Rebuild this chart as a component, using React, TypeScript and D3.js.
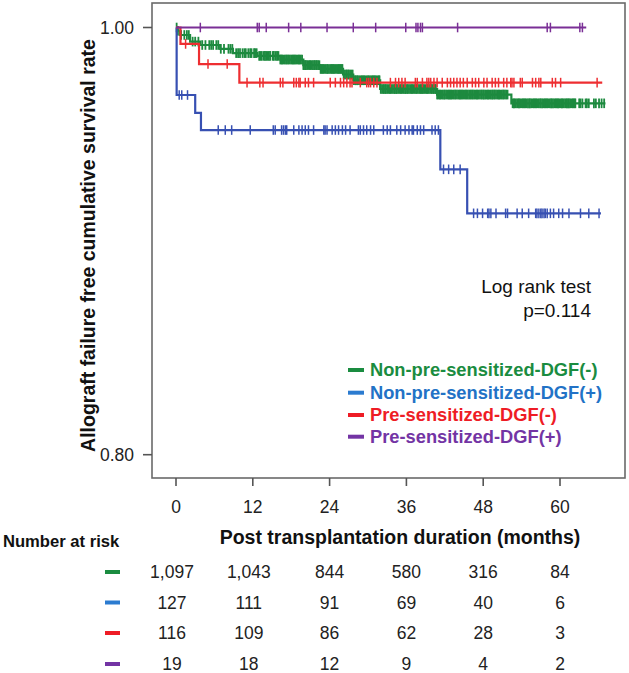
import React from "react";
import * as d3 from "d3";

const W = 629;
const H = 673;

const groups = ["Non-pre-sensitized-DGF(-)", "Non-pre-sensitized-DGF(+)", "Pre-sensitized-DGF(-)", "Pre-sensitized-DGF(+)"];
const curveColors = ["#1d8a3f", "#3750b2", "#ee2e31", "#7a2f96"];
const textColors = ["#1a8c40", "#2272c6", "#ee1c25", "#7334a4"];
const swatchColors = ["#1a8c40", "#2b7bd0", "#ee1c25", "#7334a4"];

// step data: [time (months), survival]
const greenSteps: [number, number][] = [
  [0, 1.0], [0.2, 0.9985], [0.6, 0.9965], [2.2, 0.9934], [3.8, 0.9918], [6.9, 0.990],
  [8.9, 0.988], [12.7, 0.9867], [16.3, 0.985], [19.9, 0.9824], [22.5, 0.9806],
  [26.1, 0.978], [27.7, 0.9753], [31.9, 0.9712], [40.8, 0.9686], [52.4, 0.9645],
];
const blueSteps: [number, number][] = [
  [0, 1.0], [0.1, 0.9684], [3.0, 0.960], [3.9, 0.952], [41.3, 0.9336], [45.5, 0.913],
];
const redSteps: [number, number][] = [
  [0, 1.0], [0.7, 0.9923], [3.6, 0.9829], [9.9, 0.9742],
];
const purpleSteps: [number, number][] = [[0, 1.0]];

const endTimes = [67.1, 66.4, 66.6, 64.1];

const greenCensor = [
  0.1, 0.3, 0.8, 1.3, 1.7, 2.0, 2.6, 3.0, 3.5, 4.1, 4.6, 5.2, 5.5, 5.8, 6.3, 6.6, 7.0, 7.5, 8.2,
  8.5, 8.8, 9.4, 9.7, 10.0, 10.4, 10.7, 10.9, 11.3, 11.6, 11.8, 12.2, 12.4, 12.6, 13.0, 13.2,
  13.4, 13.7, 13.9, 14.1, 14.3, 14.5, 14.7, 15.1, 15.3, 15.6, 15.8, 16.0,
  16.3, 16.5, 16.6, 16.8, 17.0, 17.2, 17.3, 17.5, 17.6, 17.8, 18.0, 18.2, 18.3, 18.5, 18.6,
  18.8, 19.0, 19.2, 19.3, 19.5, 19.7, 19.9, 20.0, 20.2, 20.3, 20.5, 20.7, 20.9, 21.0, 21.2,
  21.4, 21.6, 21.7, 21.9, 22.0, 22.2, 22.4, 22.6, 22.7, 22.9, 23.0, 23.2, 23.4, 23.6, 23.7,
  23.9, 24.1, 24.3, 24.4, 24.6, 24.7, 24.9, 25.1, 25.3, 25.4, 25.6, 25.7, 25.9, 26.0, 26.2,
  26.4, 26.6, 26.7, 26.9, 27.0, 27.2, 27.4, 27.6, 27.8, 28.0, 28.1, 28.3, 28.4, 28.6, 28.8,
  29.0, 29.1, 29.3, 29.4, 29.6, 29.8, 30.0, 30.1, 30.3, 30.5, 30.7, 30.8, 31.0, 31.1, 31.3,
  31.5, 31.7, 31.8, 32.0, 32.2, 32.4, 32.5, 32.7, 32.8, 33.0, 33.2, 33.4, 33.5, 33.7, 33.9,
  34.1, 34.2, 34.4, 34.5, 34.7, 34.9, 35.1, 35.2, 35.4, 35.6, 35.8, 35.9, 36.1, 36.2, 36.4,
  36.6, 36.8, 36.9, 37.1, 37.3, 37.5, 37.6, 37.8, 38.0, 38.2, 38.3, 38.5, 38.6, 38.8, 39.0,
  39.2, 39.3, 39.5, 39.7, 39.9, 40.0, 40.2, 40.3, 40.5, 40.6, 40.8, 41.0, 41.2, 41.3, 41.5,
  41.7, 41.9, 42.0, 42.2, 42.4, 42.6, 42.7, 42.9, 43.0, 43.2, 43.4, 43.6, 43.7, 43.9, 44.1,
  44.3, 44.4, 44.6, 44.7, 44.9, 45.1, 45.3, 45.4, 45.6, 45.8, 46.0, 46.1, 46.3, 46.4, 46.6,
  46.8, 47.0, 47.1, 47.3, 47.5, 47.7, 47.8, 48.0, 48.1, 48.3, 48.5, 48.7, 48.8, 49.0, 49.2,
  49.4, 49.5, 49.7, 49.8, 50.0, 50.2, 50.4, 50.5, 50.7, 50.9, 51.1, 51.2, 51.4, 51.6, 51.8,
  52.6, 52.8, 52.9, 53.1, 53.3, 53.5, 53.6, 53.8, 54.0, 54.2, 54.3, 54.5, 54.6, 54.8, 55.0,
  55.2, 55.3, 55.5, 55.7, 55.9, 56.0, 56.2, 56.3, 56.5, 56.7, 56.9, 57.0, 57.2, 57.4, 57.6,
  57.7, 57.9, 58.0, 58.2, 58.4, 58.6, 58.7, 58.9, 59.1, 59.3, 59.4, 59.6, 59.7, 59.9, 60.1,
  60.3, 60.4, 60.6, 60.8, 61.0, 61.1, 61.3, 61.4, 61.6, 61.8, 62.0, 62.1, 62.3, 62.4,
  63.0, 63.2, 63.5, 64.0, 64.2, 64.5, 65.3, 65.6, 66.1, 66.5, 66.9,
];
const blueCensor = [
  0.5, 0.9, 1.8, 6.6, 7.7, 8.7, 11.6, 15.2, 15.5, 16.5, 16.8, 17.1, 17.3, 18.4, 19.2, 19.7,
  20.2, 20.7, 21.5, 23.1, 23.3, 23.6, 24.4, 24.9, 25.4, 26.0, 26.5, 27.2, 28.5, 28.8, 29.3,
  29.8, 30.4, 30.9, 32.4, 33.0, 33.5, 34.5, 35.1, 35.8, 36.4, 36.9, 37.1, 37.7, 38.2, 38.7,
  40.0, 40.5, 41.0, 41.8, 42.6, 43.4, 44.4, 46.5, 47.1, 47.9, 48.7, 48.9, 49.2, 50.0, 51.5,
  51.8, 53.3, 54.1, 55.1, 56.2, 56.4, 56.7, 57.0, 57.2, 57.5, 57.7, 58.0, 58.5, 59.0, 59.8,
  60.4, 61.4, 63.2, 64.5, 66.1,
];
const redCensor = [
  1.5, 5.0, 8.0, 11.1, 13.1, 13.6, 16.3, 16.7, 18.4, 18.8, 19.2, 19.4, 20.2, 20.7, 21.5,
  24.1, 24.9, 25.7, 26.2, 26.7, 27.2, 27.5, 28.8, 29.8, 30.1, 30.4, 30.9, 31.4, 33.5, 34.3,
  34.8, 35.3, 35.8, 37.4, 37.7, 38.5, 39.2, 39.5, 39.8, 40.3, 40.8, 41.6, 42.4, 42.9, 43.4,
  43.9, 44.4, 44.9, 45.5, 46.3, 46.8, 47.3, 48.1, 48.6, 49.4, 49.9, 50.4, 51.2, 51.7, 52.3,
  52.5, 52.8, 53.8, 54.1, 55.7, 56.2, 56.7, 57.0, 58.8, 59.3, 60.1, 65.8,
];
const purpleCensor = [
  3.8, 12.7, 13.0, 14.1, 17.6, 19.5, 23.6, 27.7, 31.2, 35.9, 37.5, 37.8, 38.2, 38.5, 44.0,
  58.0, 58.5, 63.1, 63.5,
];

const xTicks = [0, 12, 24, 36, 48, 60];
const yTicks = [0.8, 1.0];
const riskGreen = ["1,097", "1,043", "844", "580", "316", "84"];
const riskBlue = ["127", "111", "91", "69", "40", "6"];
const riskRed = ["116", "109", "86", "62", "28", "3"];
const riskPurple = ["19", "18", "12", "9", "4", "2"];

const allSteps = [greenSteps, blueSteps, redSteps, purpleSteps];
const allCensor = [greenCensor, blueCensor, redCensor, purpleCensor];
const allRisk = [riskGreen, riskBlue, riskRed, riskPurple];

const FONT = "'Liberation Sans', Arial, Helvetica, sans-serif";

export default function App() {
  const frame = { left: 152, top: 3, right: 625, bottom: 478 };
  const x = d3.scaleLinear().domain([0, 60]).range([176, 560]);
  const y = d3.scaleLinear().domain([0.8, 1.0]).range([454.7, 27.5]);

  const valueAt = (steps: [number, number][], t: number) => {
    let v = steps[0][1];
    for (const [st, sv] of steps) if (st <= t) v = sv;
    return v;
  };

  const line = d3
    .line<[number, number]>()
    .x((d) => x(d[0]))
    .y((d) => y(d[1]))
    .curve(d3.curveStepAfter);

  const drawOrder = [0, 1, 2, 3];
  const legendY = [370, 392.7, 415, 436.7];
  const riskY = [572, 602.5, 633, 664];
  const tickWidths = [1.8, 1.5, 1.5, 1.5];

  return (
    <svg
      width={W}
      height={H}
      style={{ position: "absolute", left: 0, top: 0, background: "#fff" }}
      fontFamily={FONT}
    >
      <rect x={0} y={0} width={W} height={H} fill="#fff" />
      {/* frame */}
      <rect
        x={frame.left}
        y={frame.top}
        width={frame.right - frame.left}
        height={frame.bottom - frame.top}
        fill="none"
        stroke="#6a6a6a"
        strokeWidth={1.6}
      />
      {/* y ticks */}
      {yTicks.map((t) => (
        <g key={"yt" + t}>
          <line x1={frame.left - 9} x2={frame.left} y1={y(t)} y2={y(t)} stroke="#555" strokeWidth={1.6} />
          <text x={134} y={y(t)} dy="0.35em" textAnchor="end" fontSize={17.5} fill="#222">
            {t.toFixed(2)}
          </text>
        </g>
      ))}
      {/* x ticks */}
      {xTicks.map((t) => (
        <g key={"xt" + t}>
          <line x1={x(t)} x2={x(t)} y1={frame.bottom} y2={frame.bottom + 8} stroke="#555" strokeWidth={1.6} />
          <text x={x(t)} y={507} dy="0.35em" textAnchor="middle" fontSize={17.5} fill="#222">
            {t}
          </text>
        </g>
      ))}
      {/* curves */}
      {drawOrder.map((gi) => {
        const steps = allSteps[gi];
        const pts: [number, number][] = [...steps, [endTimes[gi], steps[steps.length - 1][1]]];
        return (
          <g key={"c" + gi}>
            <path d={line(pts) || ""} fill="none" stroke={curveColors[gi]} strokeWidth={2.2} />
            {allCensor[gi].map((t, i) => {
              const v = valueAt(steps, t);
              return (
                <line
                  key={i}
                  x1={x(t)}
                  x2={x(t)}
                  y1={y(v) - 4.8}
                  y2={y(v) + 4.8}
                  stroke={curveColors[gi]}
                  strokeWidth={tickWidths[gi]}
                />
              );
            })}
          </g>
        );
      })}
      {/* axis titles */}
      <text
        transform="translate(88,245.5) rotate(-90)"
        dy="0.35em"
        textAnchor="middle"
        fontSize={19.5}
        fontWeight="bold"
        fill="#111"
      >
        Allograft failure free cumulative survival rate
      </text>
      <text x={400} y={537} dy="0.35em" textAnchor="middle" fontSize={19.5} fontWeight="bold" fill="#111">
        Post transplantation duration (months)
      </text>
      {/* log rank */}
      <text x={591} y={293} textAnchor="end" fontSize={19} fill="#111">
        Log rank test
      </text>
      <text x={591} y={317} textAnchor="end" fontSize={19} fill="#111">
        p=0.114
      </text>
      {/* legend */}
      {groups.map((g, i) => (
        <g key={"lg" + i}>
          <line x1={348} x2={364} y1={legendY[i]} y2={legendY[i]} stroke={swatchColors[i]} strokeWidth={4} />
          <text x={370} y={legendY[i]} dy="0.35em" fontSize={18.3} fontWeight="bold" fill={textColors[i]}>
            {g}
          </text>
        </g>
      ))}
      {/* number at risk */}
      <text x={3} y={541} dy="0.35em" fontSize={16.6} fontWeight="bold" fill="#111">
        Number at risk
      </text>
      {allRisk.map((row, gi) => (
        <g key={"r" + gi}>
          <line x1={105} x2={120} y1={riskY[gi]} y2={riskY[gi]} stroke={swatchColors[gi]} strokeWidth={4} />
          {row.map((n, i) => (
            <text
              key={i}
              x={x(xTicks[i]) - (i < 2 ? 4 : 0)}
              y={riskY[gi]}
              dy="0.35em"
              textAnchor="middle"
              fontSize={17.5}
              fill="#222"
            >
              {n}
            </text>
          ))}
        </g>
      ))}
    </svg>
  );
}
